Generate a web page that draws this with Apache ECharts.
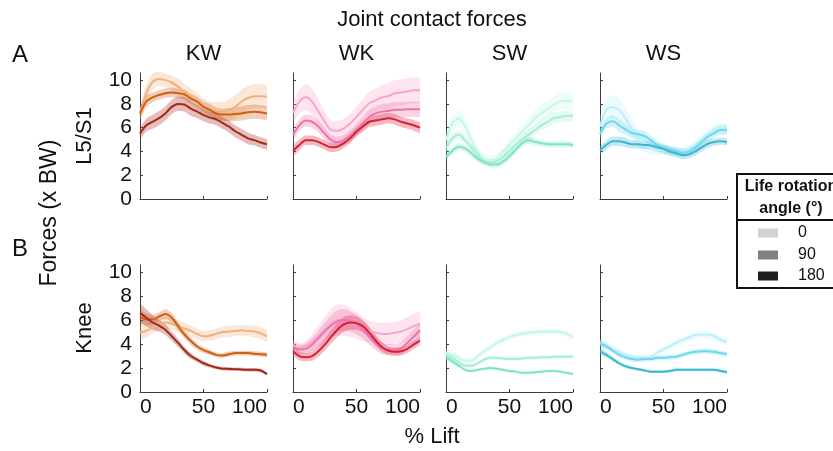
<!DOCTYPE html>
<html>
<head>
<meta charset="utf-8">
<script src="https://cdn.jsdelivr.net/npm/echarts@6/dist/echarts.min.js"></script>
<style>
html, body { margin: 0; padding: 0; background: #fff; }
#main { width: 833px; height: 451px; }
</style>
</head>
<body>
<div id="main"></div>
<script>
// % of lift, sampled every 5 %
var pct = [0, 5, 10, 15, 20, 25, 30, 35, 40, 45, 50, 55, 60, 65, 70, 75, 80, 85, 90, 95, 100];
var yTicks = [0, 2, 4, 6, 8, 10];
var xTicks = [0, 50, 100];
var tasks = ['KW', 'WK', 'SW', 'WS'];
var joints = ['L5/S1', 'Knee'];
var angles = ['0', '90', '180'];

// L5/S1 mean forces (x BW), lines = 0, 90, 180 deg
var l5KW = [
    [7.2, 8.9, 9.85, 10.1, 10.0, 9.8, 9.45, 9.0, 8.6, 8.2, 7.75, 7.5, 7.35, 7.35, 7.5, 7.75, 8.2, 8.5, 8.65, 8.65, 8.6],
    [7.2, 8.2, 8.55, 8.75, 8.9, 8.95, 8.9, 8.8, 8.45, 8.2, 7.75, 7.5, 7.2, 7.1, 7.1, 7.15, 7.2, 7.3, 7.35, 7.3, 7.2],
    [5.5, 6.2, 6.5, 6.8, 7.2, 7.75, 8.0, 7.95, 7.6, 7.35, 7.05, 6.85, 6.7, 6.4, 6.1, 5.7, 5.4, 5.1, 4.95, 4.75, 4.6]
]
var l5WK = [
    [7.25, 8.2, 8.55, 8.2, 7.35, 6.5, 5.8, 5.75, 5.95, 6.35, 6.9, 7.5, 8.05, 8.3, 8.55, 8.65, 8.9, 8.95, 9.05, 9.15, 9.15],
    [5.4, 6.2, 6.6, 6.5, 6.1, 5.5, 4.95, 4.8, 4.95, 5.3, 5.8, 6.35, 6.9, 7.2, 7.35, 7.4, 7.5, 7.5, 7.55, 7.55, 7.55],
    [4.05, 4.55, 4.95, 4.95, 4.8, 4.55, 4.35, 4.4, 4.7, 5.1, 5.65, 6.1, 6.5, 6.6, 6.7, 6.8, 6.7, 6.5, 6.35, 6.2, 6.0]
]
var l5SW = [
    [4.95, 6.35, 6.8, 6.1, 4.95, 4.0, 3.4, 3.3, 3.45, 4.0, 4.55, 5.1, 5.65, 6.2, 6.8, 7.2, 7.6, 7.95, 8.2, 8.25, 8.2],
    [4.25, 5.1, 5.4, 4.95, 4.35, 3.7, 3.2, 3.05, 3.2, 3.55, 4.05, 4.55, 5.0, 5.4, 5.8, 6.2, 6.5, 6.8, 6.9, 7.0, 7.0],
    [3.55, 4.05, 4.4, 4.25, 3.85, 3.4, 3.1, 2.9, 2.9, 3.15, 3.6, 4.15, 4.7, 4.95, 4.8, 4.7, 4.6, 4.6, 4.6, 4.6, 4.55]
]
var l5WS = [
    [6.1, 7.5, 7.75, 7.5, 6.8, 5.95, 5.1, 4.55, 4.25, 4.15, 4.1, 4.05, 4.0, 3.9, 4.1, 4.55, 5.0, 5.45, 5.8, 5.95, 5.95],
    [5.45, 6.35, 6.55, 6.2, 5.85, 5.55, 5.45, 5.3, 4.95, 4.55, 4.3, 4.15, 4.0, 3.9, 4.0, 4.35, 4.8, 5.25, 5.55, 5.8, 5.8],
    [4.1, 4.55, 4.85, 4.85, 4.75, 4.6, 4.6, 4.55, 4.5, 4.35, 4.2, 4.0, 3.85, 3.7, 3.75, 4.0, 4.35, 4.65, 4.8, 4.85, 4.8]
]

// L5/S1 standard deviations
var l5KWsd = [
    [0.6, 0.7, 0.7, 0.6, 0.6, 0.6, 0.7, 0.7, 0.7, 0.7, 0.7, 0.7, 0.8, 0.8, 0.9, 1.0, 1.0, 1.0, 1.0, 1.0, 1.0],
    [0.5, 0.5, 0.4, 0.4, 0.4, 0.4, 0.4, 0.4, 0.4, 0.4, 0.45, 0.5, 0.5, 0.5, 0.55, 0.6, 0.6, 0.6, 0.6, 0.6, 0.6],
    [0.5, 0.55, 0.6, 0.6, 0.6, 0.6, 0.6, 0.6, 0.6, 0.55, 0.5, 0.5, 0.5, 0.5, 0.5, 0.5, 0.5, 0.5, 0.45, 0.45, 0.45]
]
var l5WKsd = [
    [0.9, 1.0, 1.1, 1.1, 1.0, 0.9, 0.8, 0.8, 0.8, 0.8, 0.9, 0.9, 1.0, 1.0, 1.0, 1.1, 1.1, 1.1, 1.1, 1.1, 1.1],
    [0.5, 0.5, 0.5, 0.5, 0.5, 0.5, 0.45, 0.45, 0.45, 0.5, 0.5, 0.55, 0.6, 0.6, 0.65, 0.65, 0.65, 0.65, 0.65, 0.65, 0.65],
    [0.5, 0.45, 0.4, 0.4, 0.4, 0.4, 0.4, 0.4, 0.4, 0.4, 0.4, 0.45, 0.45, 0.45, 0.45, 0.45, 0.45, 0.45, 0.45, 0.45, 0.45]
]
var l5SWsd = [
    [0.6, 0.7, 0.7, 0.7, 0.6, 0.5, 0.4, 0.4, 0.4, 0.4, 0.5, 0.5, 0.6, 0.6, 0.7, 0.7, 0.7, 0.7, 0.7, 0.7, 0.7],
    [0.4, 0.4, 0.4, 0.4, 0.35, 0.35, 0.3, 0.3, 0.3, 0.3, 0.35, 0.35, 0.4, 0.4, 0.4, 0.45, 0.45, 0.45, 0.45, 0.45, 0.45],
    [0.3, 0.3, 0.3, 0.3, 0.3, 0.3, 0.25, 0.25, 0.25, 0.25, 0.3, 0.3, 0.3, 0.3, 0.3, 0.25, 0.25, 0.25, 0.25, 0.25, 0.25]
]
var l5WSsd = [
    [0.8, 0.9, 1.0, 1.0, 0.9, 0.8, 0.7, 0.6, 0.5, 0.4, 0.4, 0.4, 0.4, 0.4, 0.4, 0.4, 0.4, 0.4, 0.4, 0.4, 0.4],
    [0.4, 0.45, 0.5, 0.5, 0.45, 0.4, 0.4, 0.4, 0.4, 0.4, 0.35, 0.35, 0.35, 0.35, 0.35, 0.35, 0.35, 0.35, 0.4, 0.4, 0.4],
    [0.4, 0.4, 0.4, 0.4, 0.4, 0.35, 0.35, 0.35, 0.35, 0.35, 0.35, 0.35, 0.35, 0.35, 0.35, 0.35, 0.35, 0.35, 0.3, 0.3, 0.3]
]

// Knee mean forces (x BW)
var knKW = [
    [4.95, 5.1, 5.4, 5.6, 5.8, 5.7, 5.5, 5.3, 5.1, 4.85, 4.65, 4.7, 4.85, 5.0, 5.05, 5.1, 5.15, 5.1, 5.05, 4.9, 4.65],
    [6.3, 6.05, 6.05, 6.3, 6.5, 6.2, 5.5, 4.8, 4.25, 3.8, 3.5, 3.3, 3.1, 3.05, 3.15, 3.25, 3.25, 3.25, 3.2, 3.15, 3.1],
    [6.6, 6.2, 5.8, 5.55, 5.2, 4.65, 4.1, 3.5, 3.0, 2.7, 2.4, 2.2, 2.05, 1.95, 1.93, 1.9, 1.88, 1.85, 1.85, 1.8, 1.5]
]
var knWK = [
    [3.95, 3.65, 3.8, 4.15, 4.65, 5.2, 5.7, 6.0, 6.0, 5.8, 5.55, 5.25, 5.05, 4.95, 4.85, 4.85, 4.95, 5.05, 5.25, 5.5, 5.7],
    [3.75, 3.55, 3.6, 3.95, 4.5, 5.05, 5.55, 5.9, 6.0, 5.9, 5.65, 5.2, 4.65, 4.1, 3.65, 3.55, 3.55, 3.65, 4.1, 4.6, 5.15],
    [3.4, 3.0, 2.9, 3.0, 3.4, 3.95, 4.6, 5.2, 5.65, 5.8, 5.75, 5.5, 4.95, 4.3, 3.75, 3.45, 3.35, 3.4, 3.6, 3.95, 4.3]
]
var knSW = [
    [3.3, 3.1, 2.85, 2.6, 2.6, 3.0, 3.4, 3.75, 4.1, 4.35, 4.6, 4.75, 4.85, 4.95, 5.0, 5.05, 5.05, 5.05, 5.0, 4.85, 4.6],
    [3.1, 2.85, 2.45, 2.2, 2.2, 2.4, 2.7, 2.85, 2.85, 2.8, 2.75, 2.75, 2.8, 2.85, 2.85, 2.9, 2.9, 2.95, 2.95, 2.95, 2.95],
    [2.9, 2.55, 2.2, 1.85, 1.75, 1.85, 1.95, 2.0, 1.95, 1.85, 1.75, 1.7, 1.6, 1.6, 1.65, 1.7, 1.75, 1.75, 1.7, 1.6, 1.5]
]
var knWS = [
    [4.1, 3.9, 3.6, 3.35, 3.1, 2.95, 2.9, 2.9, 2.95, 3.25, 3.55, 3.8, 4.1, 4.35, 4.55, 4.75, 4.8, 4.8, 4.65, 4.35, 4.15],
    [4.05, 3.8, 3.45, 3.1, 2.9, 2.75, 2.7, 2.75, 2.75, 2.85, 2.85, 2.9, 2.95, 3.1, 3.25, 3.35, 3.4, 3.4, 3.35, 3.25, 3.15],
    [3.4, 3.1, 2.75, 2.4, 2.15, 2.0, 1.9, 1.8, 1.7, 1.7, 1.7, 1.75, 1.85, 1.85, 1.85, 1.85, 1.85, 1.85, 1.85, 1.75, 1.65]
]

// Knee standard deviations
var knKWsd = [
    [0.6, 0.55, 0.5, 0.5, 0.5, 0.5, 0.5, 0.5, 0.45, 0.45, 0.45, 0.45, 0.45, 0.45, 0.45, 0.45, 0.45, 0.45, 0.5, 0.5, 0.5],
    [0.6, 0.5, 0.4, 0.35, 0.4, 0.4, 0.35, 0.3, 0.3, 0.25, 0.25, 0.2, 0.2, 0.2, 0.2, 0.2, 0.2, 0.2, 0.2, 0.2, 0.2],
    [0.8, 0.7, 0.6, 0.5, 0.45, 0.4, 0.35, 0.3, 0.25, 0.2, 0.2, 0.15, 0.15, 0.15, 0.15, 0.15, 0.15, 0.15, 0.15, 0.15, 0.15]
]
var knWKsd = [
    [0.4, 0.4, 0.5, 0.7, 0.9, 1.1, 1.2, 1.3, 1.3, 1.2, 1.1, 1.0, 0.9, 0.9, 0.9, 0.9, 0.9, 0.95, 1.0, 1.05, 1.05],
    [0.4, 0.4, 0.45, 0.55, 0.65, 0.75, 0.85, 0.9, 0.9, 0.85, 0.8, 0.75, 0.7, 0.6, 0.5, 0.45, 0.45, 0.5, 0.55, 0.6, 0.6],
    [0.35, 0.35, 0.35, 0.4, 0.45, 0.5, 0.55, 0.6, 0.6, 0.6, 0.55, 0.5, 0.5, 0.45, 0.4, 0.35, 0.35, 0.35, 0.35, 0.35, 0.35]
]
var knSWsd = [
    [0.35, 0.3, 0.3, 0.25, 0.25, 0.25, 0.25, 0.25, 0.25, 0.25, 0.25, 0.25, 0.25, 0.25, 0.25, 0.25, 0.25, 0.25, 0.25, 0.25, 0.25],
    [0.3, 0.25, 0.2, 0.15, 0.15, 0.15, 0.15, 0.15, 0.15, 0.15, 0.15, 0.15, 0.15, 0.15, 0.15, 0.15, 0.15, 0.15, 0.15, 0.15, 0.15],
    [0.25, 0.2, 0.15, 0.12, 0.12, 0.12, 0.12, 0.12, 0.12, 0.12, 0.12, 0.12, 0.12, 0.12, 0.12, 0.12, 0.12, 0.12, 0.12, 0.12, 0.12]
]
var knWSsd = [
    [0.3, 0.3, 0.25, 0.25, 0.2, 0.2, 0.2, 0.2, 0.2, 0.25, 0.25, 0.25, 0.3, 0.3, 0.3, 0.3, 0.3, 0.3, 0.3, 0.3, 0.3],
    [0.3, 0.25, 0.2, 0.2, 0.2, 0.2, 0.2, 0.2, 0.2, 0.2, 0.2, 0.2, 0.2, 0.2, 0.2, 0.2, 0.2, 0.2, 0.2, 0.2, 0.2],
    [0.3, 0.25, 0.2, 0.15, 0.15, 0.12, 0.12, 0.12, 0.12, 0.12, 0.12, 0.12, 0.12, 0.12, 0.12, 0.12, 0.12, 0.12, 0.12, 0.12, 0.12]
]

var forces = [[l5KW, l5WK, l5SW, l5WS], [knKW, knWK, knSW, knWS]]
var spreads = [[l5KWsd, l5WKsd, l5SWsd, l5WSsd], [knKWsd, knWKsd, knSWsd, knWSsd]]

// line colours per task: 0, 90, 180 deg
var colours = {
    KW: ['#efb17f', '#cf5f14', '#a5281c'],
    WK: ['#f7a6cb', '#ef72aa', '#d72038'],
    SW: ['#c6f7e6', '#a4f0d4', '#7fe6c0'],
    WS: ['#bdeff8', '#6ed8ef', '#3fb5d4']
}
var bandOpacity = 0.3
var legendGrey = ['#d2d2d2', '#808080', '#1e1e1e']

var font = "'Liberation Sans', Arial, Helvetica, sans-serif"
var ink = '#111'
var axisInk = '#3c3c3c'
var colLeft = [140, 293, 446, 600]
var colWidth = 127
var rowTop = [73, 265]
var rowHeight = [126, 127]

function onXTick(index, value) {
    return xTicks.indexOf(Number(value)) >= 0
}

var grids = [], xAxes = [], yAxes = [], series = []

joints.forEach(function (joint, r) {
    tasks.forEach(function (task, c) {
        var g = grids.length
        grids.push({left: colLeft[c], top: rowTop[r], width: colWidth, height: rowHeight[r]})
        xAxes.push({
            type: 'category', gridIndex: g, data: pct, boundaryGap: false,
            axisLine: {show: true, onZero: false, lineStyle: {color: axisInk, width: 1}},
            axisTick: {show: true, inside: true, length: 3, interval: onXTick, lineStyle: {color: axisInk}},
            axisLabel: {
                show: r === 1, interval: onXTick, fontSize: 21, fontFamily: font, color: ink,
                margin: 5, alignMinLabel: 'left', alignMaxLabel: 'right'
            },
            splitLine: {show: false}
        })
        yAxes.push({
            type: 'value', gridIndex: g, min: 0, max: 10.6,
            axisLine: {show: true, onZero: false, lineStyle: {color: axisInk, width: 1}},
            axisTick: {show: true, inside: true, length: 3, customValues: yTicks, lineStyle: {color: axisInk}},
            axisLabel: {show: c === 0, customValues: yTicks, fontSize: 21, fontFamily: font, color: ink, margin: 8},
            splitLine: {show: false}
        })

        var means = forces[r][c]
        var sds = spreads[r][c]
        var cols = colours[task]

        // shaded +/- SD bands: lower bound, then band height stacked on it
        angles.forEach(function (a, k) {
            var m = means[k], s = sds[k]
            var stackId = 'band' + g + '_' + k
            series.push({
                type: 'line', xAxisIndex: g, yAxisIndex: g, stack: stackId,
                symbol: 'none', silent: true, smooth: 0.3,
                lineStyle: {opacity: 0},
                data: m.map(function (v, i) { return +(v - s[i]).toFixed(3) })
            })
            series.push({
                type: 'line', xAxisIndex: g, yAxisIndex: g, stack: stackId,
                symbol: 'none', silent: true, smooth: 0.3,
                lineStyle: {opacity: 0},
                areaStyle: {color: cols[k], opacity: bandOpacity},
                data: s.map(function (v) { return +(2 * v).toFixed(3) })
            })
        })

        // mean lines
        angles.forEach(function (a, k) {
            series.push({
                name: task + ' ' + joint + ' ' + a,
                type: 'line', xAxisIndex: g, yAxisIndex: g,
                symbol: 'none', smooth: 0.3, z: 3,
                lineStyle: {color: cols[k], width: 2},
                data: means[k]
            })
        })
    })
})

function txt(text, x, y, size, extra) {
    var el = {
        type: 'text', x: x, y: y, z: 10,
        style: {text: text, font: size + 'px ' + font, fill: ink, align: 'center', verticalAlign: 'middle'}
    }
    if (extra) {
        for (var key in extra) el[key] = extra[key]
    }
    return el
}

var graphics = [
    txt('Joint contact forces', 432, 20, 22),
    txt('A', 20, 55, 24),
    txt('B', 20, 249, 24),
    txt('Forces (x BW)', 50, 213, 23, {rotation: Math.PI / 2}),
    txt('L5/S1', 85, 136, 22, {rotation: Math.PI / 2}),
    txt('Knee', 85, 328, 22, {rotation: Math.PI / 2}),
    txt('% Lift', 432, 437, 22)
]
tasks.forEach(function (task, c) {
    graphics.push(txt(task, colLeft[c] + colWidth / 2, 54, 22))
})

// legend box
graphics.push({
    type: 'rect', z: 10,
    shape: {x: 737, y: 174, width: 120, height: 114},
    style: {fill: '#fff', stroke: ink, lineWidth: 2}
})
graphics.push({
    type: 'line', z: 11,
    shape: {x1: 737, y1: 220, x2: 833, y2: 220},
    style: {stroke: ink, lineWidth: 2}
})
var head1 = txt('Life rotation', 791, 187, 16, {z: 12})
var head2 = txt('angle (°)', 791, 209, 16, {z: 12})
head1.style.font = 'bold 16px ' + font
head2.style.font = 'bold 16px ' + font
graphics.push(head1, head2)
var legendY = [233, 255, 276]
angles.forEach(function (a, k) {
    graphics.push({
        type: 'rect', z: 12,
        shape: {x: 758, y: legendY[k] - 4.5, width: 20, height: 9},
        style: {fill: legendGrey[k]}
    })
    var t = txt(a, 798, legendY[k], 16, {z: 12})
    t.style.align = 'left'
    graphics.push(t)
})

var chart = echarts.init(document.getElementById('main'), null, {renderer: 'canvas'})
chart.setOption({
    animation: false,
    backgroundColor: '#fff',
    grid: grids,
    xAxis: xAxes,
    yAxis: yAxes,
    series: series,
    graphic: graphics
})
</script>
</body>
</html>
